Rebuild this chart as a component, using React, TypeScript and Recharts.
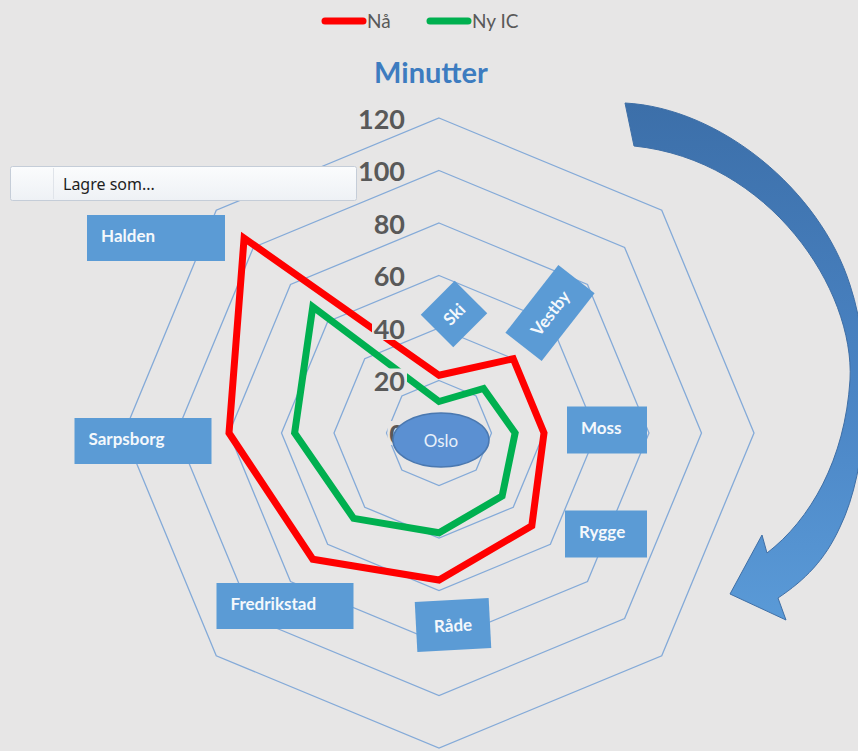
import React from 'react';
import { RadarChart, Radar, PolarGrid, PolarAngleAxis, PolarRadiusAxis } from 'recharts';

// ---- data ----
const cities = ['Ski', 'Vestby', 'Moss', 'Rygge', 'Råde', 'Fredrikstad', 'Sarpsborg', 'Halden'];
const naValues = [22, 40, 40, 50, 56, 68, 80, 105];
const nyIcValues = [12, 24, 29, 34, 38, 46, 55, 68];
const radiusTicks = [0, 20, 40, 60, 80, 100, 120];
const seriesNames = ['Nå', 'Ny IC'];
const seriesColors = ['#ff0000', '#00b050'];
const centerLabel = 'Oslo';
const titleText = 'Minutter';
const menuText = 'Lagre som...';

const data = cities.map((city, i) => ({ city, na: naValues[i], ny: nyIcValues[i] }));

// ---- layout / style ----
const W = 858;
const H = 751;
const CX = 439;
const CY = 433;
const R = 315;
const BG = '#e7e6e6';
const BOX = '#5b9bd5';
const FONT = "Lato, 'Open Sans', sans-serif";

type Lay = { dx: number; dy: number; w: number; h: number; rot: number; align: 'left' | 'center' };
const LABEL_LAYOUT: Record<string, Lay> = {
  Ski: { dx: 15, dy: -119, w: 48, h: 46, rot: -45, align: 'center' },
  Vestby: { dx: 111, dy: -120, w: 86, h: 46, rot: -52, align: 'center' },
  Moss: { dx: 168, dy: -3, w: 80, h: 47, rot: 0, align: 'left' },
  Rygge: { dx: 167, dy: 101, w: 82, h: 47, rot: 0, align: 'left' },
  'Råde': { dx: 14, dy: 192, w: 74, h: 50, rot: -3, align: 'center' },
  Fredrikstad: { dx: -154, dy: 173, w: 137, h: 46, rot: 0, align: 'left' },
  Sarpsborg: { dx: -296, dy: 8, w: 137, h: 46, rot: 0, align: 'left' },
  Halden: { dx: -283, dy: -195, w: 138, h: 46, rot: 0, align: 'left' },
};

const AngleTick = (props: any) => {
  const name = String(props.payload?.value ?? '');
  const l = LABEL_LAYOUT[name];
  if (!l) return null;
  const tx = l.align === 'left' ? -l.w / 2 + 14 : 0;
  const ty = l.align === 'left' ? -3 : 0;
  return (
    <g transform={`translate(${CX + l.dx},${CY + l.dy}) rotate(${l.rot})`}>
      <rect x={-l.w / 2} y={-l.h / 2} width={l.w} height={l.h} fill={BOX} />
      <text
        x={tx}
        y={ty}
        textAnchor={l.align === 'left' ? 'start' : 'middle'}
        dominantBaseline="central"
        fontFamily={FONT}
        fontWeight={700}
        fontSize={17}
        fill="#f4f8fc"
      >
        {name}
      </text>
    </g>
  );
};

const RadiusTick = (props: any) => {
  const { x, y, payload } = props;
  const label = String(payload?.value ?? '');
  const tw = label.length * 15.5;
  return (
    <g>
      <rect x={x - 34 - tw - 2} y={y - 12} width={tw + 4} height={24} fill={BG} />
      <text
        x={x - 34}
        y={y}
        textAnchor="end"
        dominantBaseline="central"
        fontFamily={FONT}
        fontWeight={700}
        fontSize={27}
        fill="#595959"
      >
        {label}
      </text>
    </g>
  );
};

export default function App() {
  return (
    <div style={{ position: 'absolute', left: 0, top: 0, width: W, height: H, background: BG, overflow: 'hidden' }}>
      <RadarChart
        width={W}
        height={H}
        data={data}
        cx={CX}
        cy={CY}
        outerRadius={R}
        startAngle={90}
        endAngle={-270}
        margin={{ top: 0, right: 0, bottom: 0, left: 0 }}
      >
        <PolarGrid gridType="polygon" radialLines={false} stroke="#84aad8" strokeWidth={1.3} />
        <PolarAngleAxis dataKey="city" tick={AngleTick} tickLine={false} axisLine={false} />
        <Radar
          dataKey="na"
          name={seriesNames[0]}
          stroke={seriesColors[0]}
          strokeWidth={7}
          fill="none"
          fillOpacity={0}
          dot={false}
          isAnimationActive={false}
        />
        <Radar
          dataKey="ny"
          name={seriesNames[1]}
          stroke={seriesColors[1]}
          strokeWidth={7}
          fill="none"
          fillOpacity={0}
          dot={false}
          isAnimationActive={false}
        />
        <PolarRadiusAxis
          angle={90}
          domain={[radiusTicks[0], radiusTicks[radiusTicks.length - 1]]}
          tickCount={radiusTicks.length}
          ticks={radiusTicks as any}
          axisLine={false}
          tickLine={false}
          tick={RadiusTick}
        />
      </RadarChart>

      <svg
        width={W}
        height={H}
        style={{ position: 'absolute', left: 0, top: 0, pointerEvents: 'none' }}
      >
        <defs>
          <linearGradient id="arrowGrad" x1="0" y1="0" x2="0" y2="1">
            <stop offset="0" stopColor="#3c6fa9" />
            <stop offset="0.55" stopColor="#4a84c4" />
            <stop offset="1" stopColor="#5a9ad7" />
          </linearGradient>
          <linearGradient id="menuGrad" x1="0" y1="0" x2="0" y2="1">
            <stop offset="0" stopColor="#fbfcfd" />
            <stop offset="1" stopColor="#eef1f5" />
          </linearGradient>
        </defs>

        {/* legend */}
        {seriesNames.map((n, i) => {
          const x0 = i === 0 ? 322 : 427;
          return (
            <g key={n}>
              <line x1={x0 + 3} y1={21} x2={x0 + 41} y2={21} stroke={seriesColors[i]} strokeWidth={7} strokeLinecap="round" />
              <text x={x0 + 45} y={28} fontFamily={FONT} fontSize={19} fill="#595959">
                {n}
              </text>
            </g>
          );
        })}

        {/* title */}
        <text x={431} y={71} textAnchor="middle" dominantBaseline="central" fontFamily={FONT} fontWeight={700} fontSize={29} fill="#3d7cc0">
          {titleText}
        </text>

        {/* center ellipse */}
        <ellipse cx={441} cy={440} rx={48} ry={27} fill="#5b90d2" stroke="#4a78b0" strokeWidth={1.5} />
        <text x={441} y={440} textAnchor="middle" dominantBaseline="central" fontFamily={FONT} fontSize={17} fill="#e8f0fa">
          {centerLabel}
        </text>

        {/* curved arrow */}
        <path
          d="M625,103 C720,108 820,190 850,285 C875,360 868,470 840,527 C825,560 805,580 778,598 L786,620 L730,594 L762,535 L767,553 C810,520 845,460 850,380 C855,290 770,160 634,146 Z"
          fill="url(#arrowGrad)"
          stroke="#3f6fa6"
          strokeWidth={1}
        />

        {/* context menu */}
        <rect x={10.5} y={166.5} width={346} height={34} rx={2} fill="url(#menuGrad)" stroke="#c5cdd8" />
        <line x1={53.5} y1={168} x2={53.5} y2={199} stroke="#e0e4ea" />
        <text x={63} y={190} fontFamily="'Noto Sans', 'Open Sans', sans-serif" fontSize={16} fill="#1e1e1e">
          {menuText}
        </text>
      </svg>
    </div>
  );
}
